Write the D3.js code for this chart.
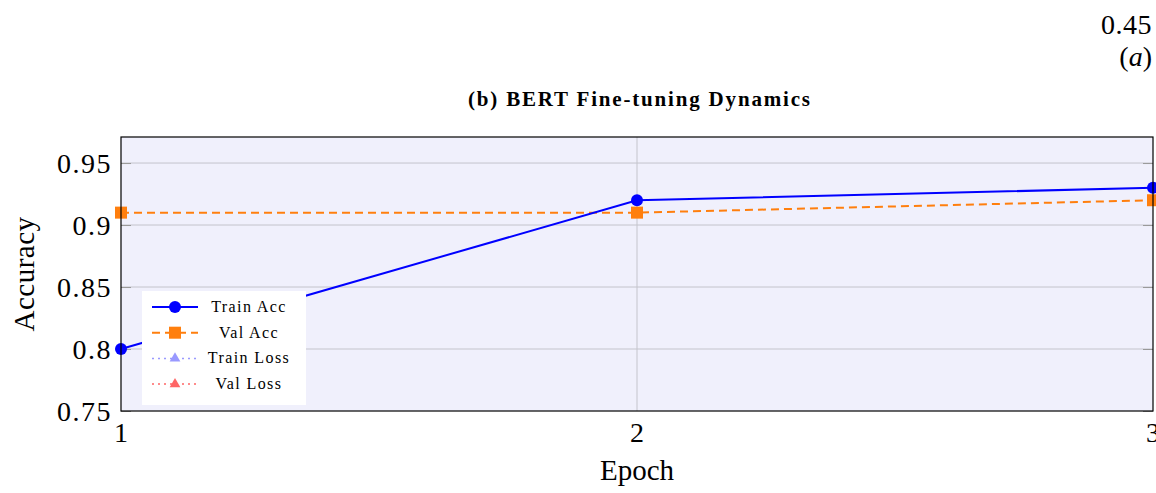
<!DOCTYPE html>
<html>
<head>
<meta charset="utf-8">
<script src="https://cdn.jsdelivr.net/npm/d3@7"></script>
<style>
  body { margin: 0; background: #fff; }
  svg text { font-family: "Liberation Serif", "DejaVu Serif", serif; fill: #000; }
</style>
</head>
<body>
<figure id="chart" style="margin:0"></figure>
<script>
const epochs = [1, 2, 3];
const trainAcc = [0.80, 0.92, 0.93];
const valAcc = [0.91, 0.91, 0.92];
const yTicks = [0.75, 0.8, 0.85, 0.9, 0.95];
const xTicks = [1, 2, 3];
const legendLabels = ['Train Acc', 'Val Acc', 'Train Loss', 'Val Loss'];

const W = 1156, H = 493;
const margin = { top: 137, right: 3, bottom: 82, left: 121 };
const width = W - margin.left - margin.right;
const height = H - margin.top - margin.bottom;

const svg = d3.select('figure#chart')
  .append('svg')
  .attr('width', W)
  .attr('height', H);

// stray labels at the top right
svg.append('text').attr('x', 1152).attr('y', 34).attr('text-anchor', 'end')
  .attr('font-size', 28).attr('letter-spacing', 0.5).text('0.45');
svg.append('text').attr('x', 1152).attr('y', 66).attr('text-anchor', 'end')
  .attr('font-size', 28).html('(<tspan font-style="italic">a</tspan>)');

// title
svg.append('text').attr('x', 468).attr('y', 106)
  .attr('font-size', 21).attr('font-weight', 'bold')
  .attr('textLength', 342).attr('lengthAdjust', 'spacing')
  .text('(b) BERT Fine-tuning Dynamics');

const g = svg.append('g').attr('transform', `translate(${margin.left},${margin.top})`);

const x = d3.scaleLinear().domain([1, 3]).range([0, width]);
const y = d3.scaleLinear().domain([0.75, 0.971]).range([height, 0]);

g.append('rect').attr('width', width).attr('height', height).attr('fill', '#f0f0fc');

// grid
g.append('g').selectAll('line').data(yTicks.slice(1)).enter().append('line')
  .attr('x1', 0).attr('x2', width)
  .attr('y1', d => y(d)).attr('y2', d => y(d))
  .attr('stroke', '#c4c4cc').attr('stroke-width', 1);
g.append('g').selectAll('line').data(xTicks.slice(1, -1)).enter().append('line')
  .attr('y1', 0).attr('y2', height)
  .attr('x1', d => x(d)).attr('x2', d => x(d))
  .attr('stroke', '#c4c4cc').attr('stroke-width', 1);

// inner tick marks
const yAxisL = d3.axisRight(y).tickValues(yTicks).tickSize(10).tickFormat('');
const yAxisR = d3.axisLeft(y).tickValues(yTicks).tickSize(10).tickFormat('');
g.append('g').call(yAxisL).call(s => { s.select('.domain').remove(); s.selectAll('line').attr('stroke', '#999'); });
g.append('g').attr('transform', `translate(${width},0)`).call(yAxisR)
  .call(s => { s.select('.domain').remove(); s.selectAll('line').attr('stroke', '#999'); });

// tick labels
g.append('g').selectAll('text').data(yTicks).enter().append('text')
  .attr('x', -9).attr('y', d => y(d) + 10).attr('text-anchor', 'end')
  .attr('font-size', 28).attr('letter-spacing', 1.5).text(d => d3.format('')(d));
g.append('g').selectAll('text').data(xTicks).enter().append('text')
  .attr('x', d => x(d)).attr('y', height + 31).attr('text-anchor', 'middle')
  .attr('font-size', 28).text(d => d);

// axis titles
svg.append('text').attr('transform', `translate(34, ${margin.top + height / 2}) rotate(-90)`)
  .attr('text-anchor', 'middle').attr('font-size', 29).attr('letter-spacing', 0.5).text('Accuracy');
svg.append('text').attr('x', margin.left + width / 2).attr('y', 480)
  .attr('text-anchor', 'middle').attr('font-size', 29).text('Epoch');

// lines
const lineGen = d3.line().x((d, i) => x(epochs[i])).y(d => y(d));
const marks = g.append('g');
marks.append('path').datum(valAcc).attr('d', lineGen).attr('fill', 'none')
  .attr('stroke', '#ff7f0e').attr('stroke-width', 2).attr('stroke-dasharray', '8,5');
marks.append('path').datum(trainAcc).attr('d', lineGen).attr('fill', 'none')
  .attr('stroke', '#0000ff').attr('stroke-width', 2);
marks.selectAll('rect.val').data(valAcc).enter().append('rect').attr('class', 'val')
  .attr('x', (d, i) => x(epochs[i]) - 6).attr('y', d => y(d) - 6)
  .attr('width', 12).attr('height', 12).attr('fill', '#ff7f0e');
marks.selectAll('circle.train').data(trainAcc).enter().append('circle').attr('class', 'train')
  .attr('cx', (d, i) => x(epochs[i])).attr('cy', d => y(d)).attr('r', 6).attr('fill', '#0000ff');

// frame
g.append('rect').attr('width', width).attr('height', height)
  .attr('fill', 'none').attr('stroke', '#000').attr('stroke-width', 1.2);

// legend
const legendStyles = [
  { color: '#0000ff', dash: null, marker: 'circle' },
  { color: '#ff7f0e', dash: '8,5', marker: 'square' },
  { color: '#9999ff', dash: '2,4', marker: 'triangle' },
  { color: '#ff6666', dash: '2,4', marker: 'triangle' },
];
const lg = svg.append('g').attr('transform', 'translate(142,291)');
lg.append('rect').attr('width', 164).attr('height', 114).attr('fill', '#fff');
legendLabels.forEach((label, i) => {
  const st = legendStyles[i];
  const cy = 16 + i * 25.7;
  const row = lg.append('g').attr('transform', `translate(0,${cy})`);
  row.append('line').attr('x1', 10).attr('x2', 56).attr('y1', 0).attr('y2', 0)
    .attr('stroke', st.color).attr('stroke-width', i < 2 ? 2 : 1.5)
    .attr('stroke-dasharray', st.dash);
  if (st.marker === 'circle') {
    row.append('circle').attr('cx', 33).attr('r', 6).attr('fill', st.color);
  } else if (st.marker === 'square') {
    row.append('rect').attr('x', 27).attr('y', -6).attr('width', 12).attr('height', 12).attr('fill', st.color);
  } else {
    row.append('path').attr('d', d3.symbol(d3.symbolTriangle, 50)()).attr('transform', 'translate(33,0)')
      .attr('fill', st.color);
  }
  row.append('text').attr('x', 107).attr('y', 5).attr('text-anchor', 'middle')
    .attr('font-size', 16).attr('letter-spacing', 1.4).text(label);
});
</script>
</body>
</html>
